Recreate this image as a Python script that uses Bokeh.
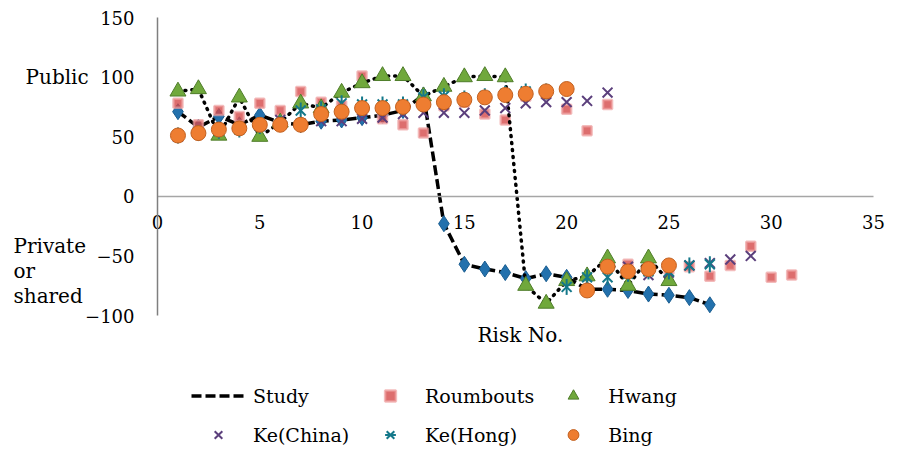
from bokeh.plotting import figure
from bokeh.models import Legend, LegendItem, Label, FixedTicker
from bokeh.embed import file_html
from bokeh.resources import INLINE
import math

FONT = "DejaVu Serif"
FS_TICK = "18px"
FS_TEXT = "20px"
FS_LEG = "19px"

# ---- data ----
x_study = list(range(1, 28))
study = [71, 58, 67, 60, 68, 62, 60, 63, 64, 66, 68, 72, 85, -23, -57, -61, -64, -69, -65, -68,
         -78, -78, -79, -82, -83, -85, -91]

x_roum = list(range(1, 32))
roumbouts = [78, 60, 72, 67, 78, 72, 88, 79, 76, 101, 65, 60, 53, 76, 79, 69, 64, 84, 86, 73, 55, 77,
             -57, -62, -61, -59, -67, -58, -42, -68, -66]

x_hwang = list(range(1, 26))
hwang = [88, 90, 51, 83, 50, 62, 78, 74, 87, 95, 101, 101, 84, 92, 100, 101, 100, -75, -90, -71,
         -67, -52, -75, -52, -71]

x_kec = list(range(1, 30))
ke_china = [50, 53, 56, 57, 59, 64, 61, 63, 63, 65, 66, 69, 70, 70, 70, 72, 74, 78, 79, 79, 80, 87,
            -59, -66, -64, -58, -56, -53, -50]

x_keh = list(range(1, 28))
ke_hong = [51, 53, 55, 56, 59, 61, 72, 73, 78, 77, 77, 77, 83, 84, 82, 84, 86, 88, 88, -76, -68, -68,
           -65, -63, -63, -58, -57]

x_bing = list(range(1, 26))
bing = [51, 53, 56, 57, 60, 60, 60, 69, 71, 74, 74, 75, 77, 79, 81, 83, 85, 86, 88, 90,
        -79, -59, -63, -61, -58]

x_ticks = [0, 5, 10, 15, 20, 25, 30, 35]
y_ticks = [-100, -50, 0, 50, 100, 150]
y_tick_labels = {-100: "\u2212100", -50: "\u221250", 0: "0", 50: "50", 100: "100", 150: "150"}

# ---- figure: the frame covers the whole canvas, axes are pinned at 0 ----
W, H = 902, 449
PX_X = 716 / 35.0     # pixels per risk number
PX_Y = 298 / 250.0    # pixels per y unit
X0, Y0 = 157, 17      # canvas position of x=0 / y=150
x_lo = -X0 / PX_X
x_hi = 35 + (W - X0 - 716) / PX_X
y_hi = 150 + Y0 / PX_Y
y_lo = -100 - (H - Y0 - 298) / PX_Y

p = figure(width=W, height=H, x_range=(x_lo, x_hi), y_range=(y_lo, y_hi),
           output_backend="svg", toolbar_location=None,
           min_border_left=0, min_border_right=0, min_border_top=0, min_border_bottom=0)
p.outline_line_color = None
p.grid.visible = False
p.background_fill_color = "white"

xa = p.xaxis[0]
xa.fixed_location = 0
xa.bounds = (0, 35)
xa.ticker = FixedTicker(ticks=x_ticks)
xa.axis_line_color = "#a6a6a6"
xa.axis_line_width = 1.5
xa.major_tick_line_color = None
xa.minor_tick_line_color = None
xa.major_label_standoff = 13
xa.major_label_text_font = FONT
xa.major_label_text_font_size = FS_TICK
xa.major_label_text_color = "black"

ya = p.yaxis[0]
ya.fixed_location = 0
ya.bounds = (-100, 150)
ya.ticker = FixedTicker(ticks=y_ticks)
ya.major_label_overrides = y_tick_labels
ya.axis_line_color = "#7f7f7f"
ya.axis_line_width = 1.5
ya.major_tick_line_color = None
ya.minor_tick_line_color = None
ya.major_label_standoff = 17
ya.major_label_text_font = FONT
ya.major_label_text_font_size = FS_TICK
ya.major_label_text_color = "black"

# ---- series ----
study_line = p.line(x_study, study, line_color="black", line_width=3.5, line_dash="10 4")
p.scatter(x_study, study, marker="diamond", size=16, fill_color="#2371ad", line_color="#1b5e91", line_width=1)

roum = p.scatter(x_roum, roumbouts, marker="square", size=9, fill_color="#d44a4a", fill_alpha=0.8,
                 line_color="#eea0a0", line_width=2.5, line_alpha=0.7)

p.line(x_hwang, hwang, line_color="black", line_width=3.5, line_dash="1 6", line_cap="round")
hw = p.scatter(x_hwang, hwang, marker="triangle", size=16, fill_color="#70a83c", line_color="#4f7d2a", line_width=1)

kc = p.scatter(x_kec, ke_china, marker="x", size=14, line_color="#5b3f7c", line_width=2)

kh1 = p.scatter(x_keh, ke_hong, marker="x", size=14, line_color="#14788a", line_width=2)
kh2 = p.scatter(x_keh, ke_hong, marker="dash", size=16, angle=math.pi / 2, line_color="#14788a", line_width=2)

bg = p.scatter(x_bing, bing, marker="circle", size=15, fill_color="#ee7d31", line_color="#c2601f", line_width=1)

# ---- text labels ----
def lab(x, y, t, align="left"):
    p.add_layout(Label(x=x, y=y, text=t, text_align=align, text_baseline="middle",
                       text_font=FONT, text_font_size=FS_TEXT, text_color="black"))

lab(-6.45, 100, "Public")
lab(-7.04, -42, "Private")
lab(-7.04, -63, "or")
lab(-7.04, -84, "shared")
lab(17.74, -116, "Risk No.", align="center")

legend = Legend(items=[
    LegendItem(label="Study", renderers=[study_line]),
    LegendItem(label="Roumbouts", renderers=[roum]),
    LegendItem(label="Hwang", renderers=[hw]),
    LegendItem(label="Ke(China)", renderers=[kc]),
    LegendItem(label="Ke(Hong)", renderers=[kh1, kh2]),
    LegendItem(label="Bing", renderers=[bg]),
], location=(191, 1), orientation="horizontal", ncols=3,
    glyph_width=54, glyph_height=27, label_standoff=8, label_width=98, spacing=12, padding=2,
    border_line_color=None, background_fill_alpha=0,
    label_text_font=FONT, label_text_font_size=FS_LEG, label_text_color="black")
p.add_layout(legend)

open("out.html", "w").write(file_html(p, INLINE))
